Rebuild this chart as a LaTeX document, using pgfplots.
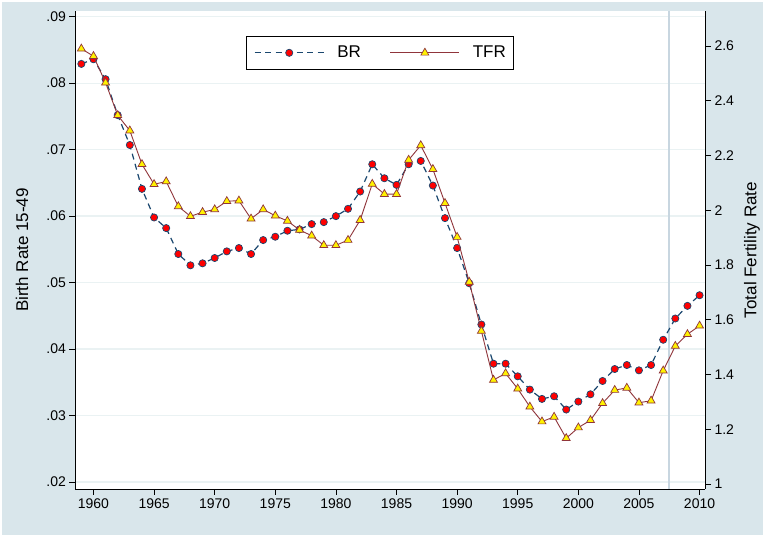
\documentclass[border=0pt]{standalone}
\usepackage{fontspec}
\setmainfont{Liberation Sans}
\usepackage{pgfplots}
\usepackage{pgfplotstable}
\pgfplotsset{compat=1.18}
\definecolor{bgblue}{RGB}{217,230,235}
\definecolor{gridc}{RGB}{234,242,243}
\definecolor{stnavy}{RGB}{26,71,111}
\definecolor{stmaroon}{RGB}{144,53,59}
\definecolor{vlinec}{RGB}{200,214,224}

\pgfplotstableread{
year br
1959 0.0829
1960 0.0836
1961 0.0806
1962 0.0752
1963 0.0707
1964 0.0641
1965 0.0598
1966 0.0582
1967 0.0543
1968 0.0526
1969 0.0529
1970 0.0537
1971 0.0547
1972 0.0552
1973 0.0543
1974 0.0564
1975 0.0569
1976 0.0578
1977 0.0580
1978 0.0588
1979 0.0591
1980 0.0600
1981 0.0611
1982 0.0637
1983 0.0678
1984 0.0657
1985 0.0647
1986 0.0678
1987 0.0683
1988 0.0646
1989 0.0597
1990 0.0552
1991 0.0499
1992 0.0437
1993 0.0378
1994 0.0378
1995 0.0359
1996 0.0339
1997 0.0325
1998 0.0329
1999 0.0309
2000 0.0321
2001 0.0332
2002 0.0352
2003 0.0370
2004 0.0376
2005 0.0368
2006 0.0376
2007 0.0414
2008 0.0446
2009 0.0465
2010 0.0481
}\brtable

\pgfplotstableread{
year tfr
1959 2.590
1960 2.563
1961 2.466
1962 2.347
1963 2.291
1964 2.168
1965 2.095
1966 2.105
1967 2.014
1968 1.978
1969 1.993
1970 2.003
1971 2.033
1972 2.035
1973 1.969
1974 2.003
1975 1.980
1976 1.961
1977 1.928
1978 1.907
1979 1.872
1980 1.872
1981 1.891
1982 1.964
1983 2.096
1984 2.059
1985 2.059
1986 2.184
1987 2.237
1988 2.150
1989 2.026
1990 1.902
1991 1.738
1992 1.559
1993 1.380
1994 1.404
1995 1.348
1996 1.282
1997 1.228
1998 1.245
1999 1.167
2000 1.206
2001 1.233
2002 1.295
2003 1.343
2004 1.351
2005 1.297
2006 1.304
2007 1.414
2008 1.504
2009 1.547
2010 1.578
}\tfrtable

\pgfplotsset{
  common/.style={
    at={(75.4bp,46bp)}, anchor=south west,
    scale only axis, width=629.6bp, height=478bp,
    xmin=1958.51, xmax=2010.45,
    tick align=outside, major tick length=6bp,
    tick style={black, line width=0.6bp},
    axis line style={black, line width=0.8bp},
    ticklabel style={font=\fontsize{14bp}{16bp}\selectfont},
    label style={font=\fontsize{17bp}{19bp}\selectfont},
    /pgf/number format/assume math mode=true,
    scaled y ticks=false,
  },
  brstyle/.style={stnavy, line width=1.2bp, dash pattern=on 6bp off 4.5bp,
    mark=*, mark size=3.6bp,
    mark options={solid, fill=red, draw=stnavy, line width=0.7bp}},
  tfrstyle/.style={stmaroon, line width=0.9bp, solid,
    mark=triangle*, mark size=4.6bp,
    mark options={solid, fill=yellow, draw=stmaroon, line width=0.7bp}},
}

\begin{document}
\begin{tikzpicture}[x=1bp,y=1bp]
\useasboundingbox (0,0) rectangle (763,535);
\fill[white] (0,0) rectangle (763,535);
\fill[bgblue] (2,0) rectangle (763,533);
\begin{axis}[common,
  axis background/.style={fill=white},
  ymin=0.01895, ymax=0.09086,
  axis x line*=bottom, axis y line*=left,
  xtick={1960,1965,1970,1975,1980,1985,1990,1995,2000,2005,2010},
  xticklabels={1960,1965,1970,1975,1980,1985,1990,1995,2000,2005,2010},
  ytick={0.02,0.03,0.04,0.05,0.06,0.07,0.08,0.09},
  yticklabels={.02,.03,.04,.05,.06,.07,.08,.09},
  ymajorgrids, grid style={gridc, line width=1.3bp},
  ylabel={Birth Rate 15-49},
  ylabel style={at={(rel axis cs:0,0.5)}, anchor=center, yshift=53.4bp},
]
\addplot[vlinec, line width=2bp, forget plot] coordinates {(2007.5,0.01895) (2007.5,0.09086)};
\addplot[brstyle] table[x=year,y=br]{\brtable};
\end{axis}
\begin{axis}[common,
  ymin=0.9817, ymax=2.728,
  axis x line=none, axis y line*=right,
  ytick={1,1.2,1.4,1.6,1.8,2,2.2,2.4,2.6},
  yticklabels={1,1.2,1.4,1.6,1.8,2,2.2,2.4,2.6},
  ylabel={Total Fertility Rate},
  ylabel style={at={(rel axis cs:1,0.5)}, anchor=center, yshift=-47bp},
  legend columns=2,
  legend image code/.code={\draw[mark repeat=2,mark phase=2,#1] plot coordinates {(0bp,0bp) (34.5bp,0bp) (69bp,0bp)};},
  legend style={at={(0.4838,0.9125)}, anchor=center, draw=black, line width=0.8bp,
    fill=white, inner xsep=8bp, inner ysep=10bp,
    font=\fontsize{17bp}{19bp}\selectfont,
    nodes={inner sep=0pt},
    /tikz/every odd column/.append style={column sep=13bp},
    /tikz/every even column/.append style={column sep=29bp}},
]
\addlegendimage{brstyle}
\addlegendentry{BR}
\addplot[tfrstyle] table[x=year,y=tfr]{\tfrtable};
\addlegendentry{TFR}
\end{axis}
\end{tikzpicture}
\end{document}
